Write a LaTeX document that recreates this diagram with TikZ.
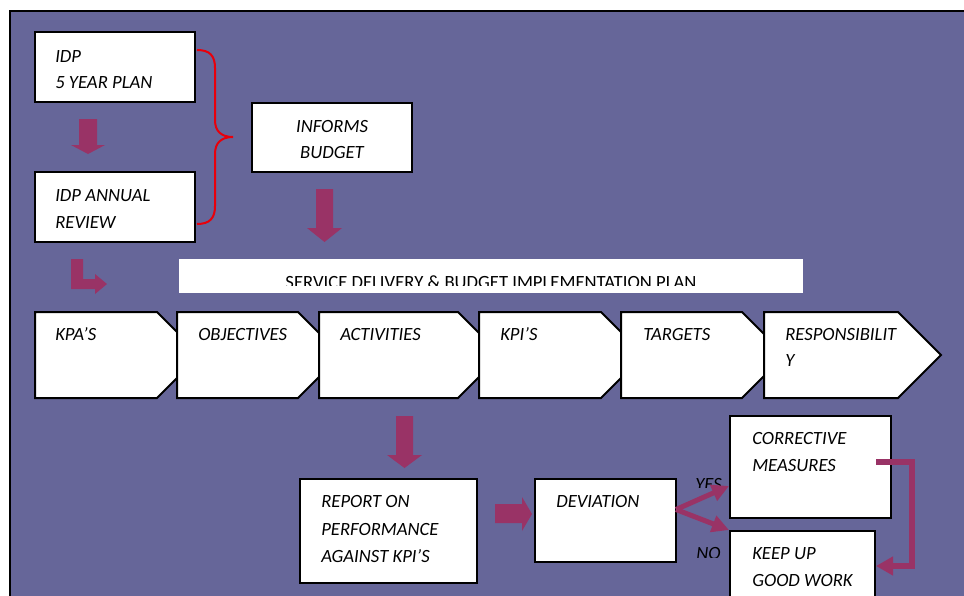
\documentclass[tikz,border=0pt]{standalone}
\usepackage{fontspec}
\setmainfont{Carlito}
\usetikzlibrary{arrows.meta,calc,fit}

\definecolor{panel}{HTML}{666699}
\definecolor{flow}{HTML}{993366}
\definecolor{bracered}{HTML}{E8000B}

\tikzset{
  box/.style={draw=black, line width=1.5pt, fill=white, inner sep=0pt},
  band/.style={fill=white, draw=none, inner sep=0pt},
  chev/.style={draw=black, line width=1.5pt, fill=white, line join=miter},
  label/.style={anchor=base west, inner sep=0pt, font=\fontsize{14}{20}\selectfont\itshape},
  clabel/.style={anchor=base, inner sep=0pt, font=\fontsize{14}{20}\selectfont\itshape},
  blockarrow/.style={fill=flow, draw=none},
  thinflow/.style={draw=flow, line width=3.75pt, -{Triangle[length=12.75pt,width=12.5pt]}},
  elbowflow/.style={draw=flow, line width=4.5pt, line join=miter, -{Triangle[length=12.75pt,width=13.5pt]}},
}

\begin{document}
\begin{tikzpicture}[x=0.75pt, y=-0.75pt]
\useasboundingbox (0,0) rectangle (964,596);

% panel and its frame
\fill[panel] (10,11) rectangle (964,596);
\draw[black, line width=1.5pt] (10,596) -- (10,11) -- (964,11);

% planning boxes
\node[box, fit={(35,32) (195,102)}] (idp) {};
\node[label] (idpA) at (55,62) {IDP};
\node[label] (idpB) at (55,88) {5 YEAR PLAN};

\node[box, fit={(35,172) (195,242)}] (review) {};
\node[label] (revA) at (55,201) {IDP ANNUAL};
\node[label] (revB) at (55,228) {REVIEW};

\node[box, fit={(252,103) (412,172)}] (budget) {};
\node[clabel] (budA) at (332,132) {INFORMS};
\node[clabel] (budB) at (332,158) {BUDGET};

% brace joining the two IDP boxes
\draw[bracered, line width=1.5pt]
  (197,50) .. controls (210,50) and (215,56) .. (215,68) -- (215,120)
  .. controls (215,131) and (221,137) .. (233,137)
  .. controls (221,137) and (215,143) .. (215,154) -- (215,206)
  .. controls (215,218) and (210,224) .. (197,224);

% block arrows
\fill[blockarrow] (79,119) -- (97,119) -- (97,145) -- (105,145) -- (88,154) -- (71,145) -- (79,145) -- cycle;
\fill[blockarrow] (316,189) -- (333,189) -- (333,228) -- (342,228) -- (324.5,242) -- (307,228) -- (316,228) -- cycle;
\fill[blockarrow] (71,259) -- (83,259) -- (83,279) -- (95,279) -- (95,274) -- (107,284) -- (95,294) -- (95,289) -- (71,289) -- cycle;

% implementation plan band
\node[band, fit={(179,259) (803,293)}] (sdbip) {};
\begin{scope}
  \clip (179,259) rectangle (803,285);
  \node[anchor=base, inner sep=0pt, font=\fontsize{14}{20}\selectfont] (sdbipT) at (491,288)
    {SERVICE DELIVERY \& BUDGET IMPLEMENTATION PLAN};
\end{scope}

% chevron row
\draw[chev] (35,312) -- (157,312) -- (200,355) -- (157,398) -- (35,398) -- cycle;
\draw[chev] (177,312) -- (298,312) -- (341,355) -- (298,398) -- (177,398) -- cycle;
\draw[chev] (319,312) -- (458,312) -- (501,355) -- (458,398) -- (319,398) -- cycle;
\draw[chev] (479,312) -- (601,312) -- (644,355) -- (601,398) -- (479,398) -- cycle;
\draw[chev] (621,312) -- (742,312) -- (785,355) -- (742,398) -- (621,398) -- cycle;
\draw[chev] (764,312) -- (898,312) -- (941,355) -- (898,398) -- (764,398) -- cycle;
\node[label] (kpa) at (55,340) {KPA’S};
\node[label] (obj) at (198,340) {OBJECTIVES};
\node[label] (act) at (340,340) {ACTIVITIES};
\node[label] (kpi) at (500,340) {KPI’S};
\node[label] (tgt) at (643,340) {TARGETS};
\node[label] (resA) at (785,340) {RESPONSIBILIT};
\node[label] (resB) at (785,366) {Y};

% reporting
\fill[blockarrow] (396,416) -- (413,416) -- (413,455) -- (422,455) -- (404.5,468) -- (387,455) -- (396,455) -- cycle;

\node[box, fit={(300,479) (477,583)}] (report) {};
\node[label] (repA) at (321,507) {REPORT ON};
\node[label] (repB) at (321,535) {PERFORMANCE};
\node[label] (repC) at (321,562) {AGAINST KPI’S};

\fill[blockarrow] (495,504) -- (522,504) -- (522,497) -- (532,514) -- (522,531) -- (522,523) -- (495,523) -- cycle;

\node[box, fit={(535,479) (676,562)}] (dev) {};
\node[label] (devT) at (556,507) {DEVIATION};

\node[box, fit={(730,416) (891,518)}] (corr) {};
\node[label] (corA) at (752,444) {CORRECTIVE};
\node[label] (corB) at (752,471) {MEASURES};

\node[box, fit={(730,531) (875,601)}] (keep) {};
\node[label] (keepA) at (752,559) {KEEP UP};
\node[label] (keepB) at (752,586) {GOOD WORK};

% decision labels, cut off at the bottom
\begin{scope}
  \clip (690,470) rectangle (728,487);
  \node[label] (yes) at (695,490) {YES};
\end{scope}
\begin{scope}
  \clip (690,540) rectangle (728,557);
  \node[label] (no) at (696,559) {NO};
\end{scope}

% decision arrows
\coordinate (split) at ($(dev.east)+(-1,-11)$);
\draw[thinflow] (split) -- ($(corr.west)+(0,19)$);
\draw[thinflow] (split) -- (keep.north west);

% corrective measures feed back
\draw[elbowflow] ($(corr.east)+(-16,-5)$) -- ++(36,0) |- (keep.east);

\end{tikzpicture}
\end{document}
